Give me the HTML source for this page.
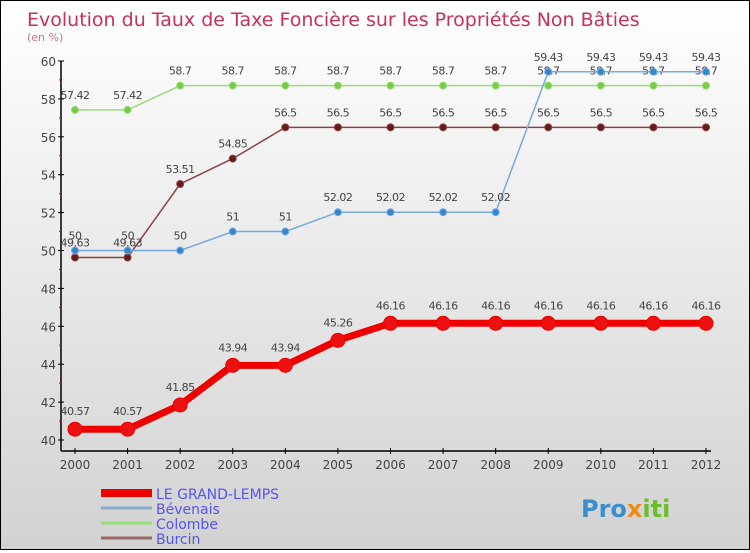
<!DOCTYPE html>
<html><head><meta charset="utf-8"><style>
html,body{margin:0;padding:0}
body{width:750px;height:550px;overflow:hidden;font-family:"DejaVu Sans","Liberation Sans",sans-serif}
#wrap{position:relative;width:748px;height:548px;border:1px solid #000;background:linear-gradient(#ffffff,#d2d2d2)}
svg text{font-family:"DejaVu Sans","Liberation Sans",sans-serif}
</style></head><body>
<div id="wrap">
<svg id="chart" width="748" height="548"></svg>
</div>
<script>
const years=[2000,2001,2002,2003,2004,2005,2006,2007,2008,2009,2010,2011,2012];
const yTicks=[40,42,44,46,48,50,52,54,56,58,60];
const grandLemps=[40.57,40.57,41.85,43.94,43.94,45.26,46.16,46.16,46.16,46.16,46.16,46.16,46.16];
const bevenais=[50,50,50,51,51,52.02,52.02,52.02,52.02,59.43,59.43,59.43,59.43];
const colombe=[57.42,57.42,58.7,58.7,58.7,58.7,58.7,58.7,58.7,58.7,58.7,58.7,58.7];
const burcin=[49.63,49.63,53.51,54.85,56.5,56.5,56.5,56.5,56.5,56.5,56.5,56.5,56.5];
const seriesNames=["LE GRAND-LEMPS","Bévenais","Colombe","Burcin"];

const NS="http://www.w3.org/2000/svg";
const svg=document.getElementById('chart');
const X=i=>74+i*(705-74)/(years.length-1);
const Y=v=>439-(v-40)*(439-60)/20;
function el(tag,attrs,parent,text){const e=document.createElementNS(NS,tag);for(const k in attrs)e.setAttribute(k,attrs[k]);if(text!==undefined)e.textContent=text;(parent||svg).appendChild(e);return e;}

let t=el('text',{x:26,y:25,fill:'#c8305c','font-size':19},svg,'Evolution du Taux de Taxe Foncière sur les Propriétés Non Bâties');

t=el('text',{x:26,y:40,fill:'#c8709a','font-size':11},svg,'(en %)');


// axes
let a=el('line',{x1:60,y1:60,x2:60,y2:450,stroke:'#000','stroke-width':1.5});

a=el('line',{x1:60,y1:450,x2:710,y2:450,stroke:'#000','stroke-width':1.5});

yTicks.forEach((v,i)=>{
  el('line',{x1:57,y1:Y(v),x2:63,y2:Y(v),stroke:'#000'});
  if(i<yTicks.length-1) el('line',{x1:58,y1:Y(v+1),x2:61,y2:Y(v+1),stroke:'#d00'});
  const lt=el('text',{x:55,y:Y(v)+5,'text-anchor':'end','font-size':12,fill:'#444'},svg,String(v));
  
});
years.forEach((yr,i)=>{
  el('line',{x1:X(i),y1:447,x2:X(i),y2:453,stroke:'#000'});
  const lt=el('text',{x:X(i),y:468,'text-anchor':'middle','font-size':12,fill:'#444'},svg,String(yr));
  
});

function draw(data,color,dot,width,r,name,labelOffset){
  const g=el('g',{});
  
  el('polyline',{points:data.map((v,i)=>X(i)+','+Y(v)).join(' '),fill:'none',stroke:color,'stroke-width':width,'stroke-linejoin':'round'},g);
  data.forEach((v,i)=>{
    const c=el('circle',{cx:X(i),cy:Y(v),r:r,fill:dot,stroke:color,'stroke-width':1},g);
    
    const lt=el('text',{x:X(i),y:Y(v)-labelOffset,'text-anchor':'middle','font-size':11,fill:'#444','letter-spacing':'-0.5'},g,String(v));
    
  });
}
draw(colombe,'#99dd77','#77cc44',1.5,3.5,'series-colombe',11);
draw(burcin,'#884444','#661a1a',1.5,3.5,'series-burcin',11);
draw(bevenais,'#77aadd','#3388cc',1.5,3.5,'series-bevenais',11);
draw(grandLemps,'#ee0000','#ee1111',7,7,'series-le-grand-lemps',14);

// legend
const legColors=['#ee0000','#88aacc','#99dd77','#996666'];
const legW=[8,3,3,3];
seriesNames.forEach((n,i)=>{
  const y=492+i*15;
  const g=el('g',{});
  
  el('line',{x1:100,y1:y,x2:151,y2:y,stroke:legColors[i],'stroke-width':legW[i]},g);
  el('text',{x:155,y:y+6,'font-size':14,fill:'#5555ee'},g,n);
});
// logo
const lg=el('text',{x:580,y:516,'font-size':24,'font-weight':'bold'});

[['Pro','#3a8fd0'],['x','#f08a10'],['iti','#6cbf2a']].forEach(([s,c])=>el('tspan',{fill:c},lg,s));
</script>
</body></html>
